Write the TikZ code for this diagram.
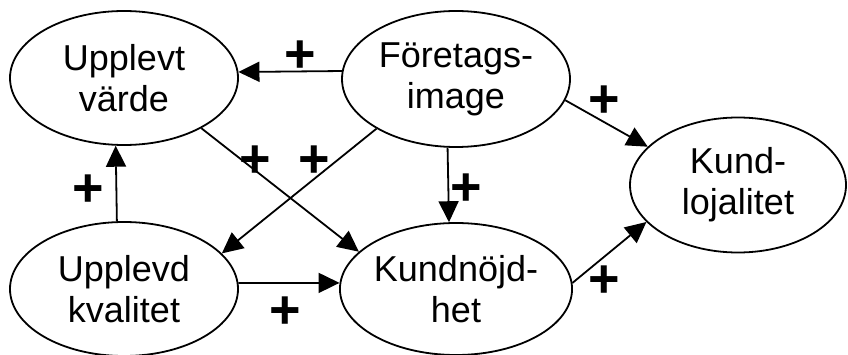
\documentclass[tikz,border=0pt]{standalone}
\usepackage{fontspec}
\setmainfont{Liberation Sans}
\usetikzlibrary{shapes.geometric,arrows.meta}
\begin{document}
\begin{tikzpicture}[x=1pt,y=-1pt,
  concept/.style={draw,ellipse,line width=1.8pt,inner sep=0pt,
    minimum width=228pt,minimum height=134pt,align=center,
    font=\fontsize{36}{41}\selectfont},
  link/.style={line width=1.8pt,-{Triangle[length=21pt,width=20pt]}},
  sign/.style={inner sep=0pt,text height=37pt,text depth=0pt,
    font=\fontsize{54}{54}\selectfont\bfseries}]
\useasboundingbox (0,0) rectangle (848,355);

% constructs
\node[concept] (vard) at (124,78) {Upplevt\\värde};
\node[concept,minimum height=136pt] (image) at (456,79) {Företags-\\image};
\node[concept,minimum width=216pt,minimum height=135pt] (lojal) at (738,185) {Kund-\\lojalitet};
\node[concept] (kval) at (124,289) {Upplevd\\kvalitet};
\node[concept,minimum height=132pt] (nojd) at (456,289) {Kundnöjd-\\het};

% causal paths
\draw[link] (image.176) -- (vard.3.5);
\draw[link] (kval.96.8) -- (vard.263.3);
\draw[link] (vard.-33) -- (nojd.159);
\draw[link] (image.212.6) -- (kval.20.7);
\draw[link] (image.263.3) -- (nojd.96.9);
\draw[link] (image.-11.5) -- (lojal.157.5);
\draw[link] (nojd.3) -- (lojal.202);
\draw[link] (kval.3) -- (nojd.177);

% signs of the effects
\node[sign] (s1) at (300,54) {+};
\node[sign] (s2) at (88,188) {+};
\node[sign] (s3) at (255,159) {+};
\node[sign] (s4) at (314,159) {+};
\node[sign] (s5) at (466,187) {+};
\node[sign] (s6) at (604,99) {+};
\node[sign] (s7) at (604,279) {+};
\node[sign] (s8) at (285,310) {+};
\end{tikzpicture}
\end{document}
